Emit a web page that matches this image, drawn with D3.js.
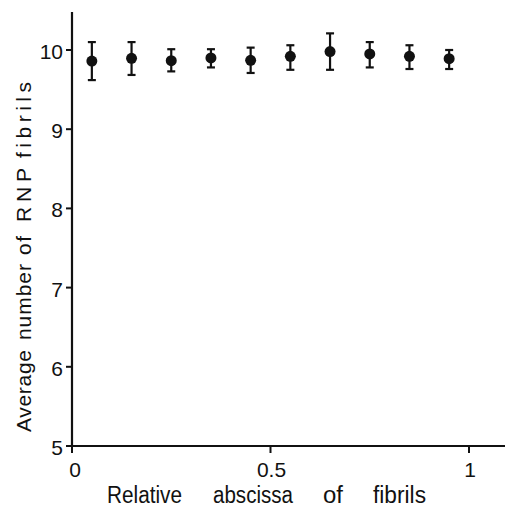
<!DOCTYPE html>
<html>
<head>
<meta charset="utf-8">
<script src="https://cdn.jsdelivr.net/npm/d3@7"></script>
<style>
  body { margin: 0; background: #fff; }
  text { font-family: "Liberation Sans", Arial, sans-serif; fill: #111; }
</style>
</head>
<body>
<div id="chart"></div>
<script>
// data
const abscissa = [0.05, 0.15, 0.25, 0.35, 0.45, 0.55, 0.65, 0.75, 0.85, 0.95];
const means    = [9.86, 9.895, 9.865, 9.90, 9.87, 9.92, 9.98, 9.95, 9.92, 9.89];
const upper    = [10.10, 10.10, 10.01, 10.01, 10.03, 10.06, 10.21, 10.10, 10.06, 10.00];
const lower    = [9.62, 9.685, 9.73, 9.78, 9.71, 9.75, 9.75, 9.78, 9.76, 9.76];
const xTicks = [0, 0.5, 1];
const xTickLabels = ["0", "0.5", "1"];
const yTicks = [5, 6, 7, 8, 9, 10];
const xTitleWords = ["Relative", "abscissa", "of", "fibrils"];
const yTitleWords = ["Average", "number", "of", "R N P", "fibrils"];

const W = 507, H = 508;
const chart = {
  x: d3.scaleLinear().domain([0, 1]).range([72, 469]),
  y: d3.scaleLinear().domain([5, 10]).range([446, 50])
};

const svg = d3.select("#chart").append("svg")
  .attr("width", W).attr("height", H);

// axes lines
svg.append("line")
  .attr("x1", chart.x(0)).attr("x2", chart.x(0))
  .attr("y1", 12).attr("y2", chart.y(5))
  .attr("stroke", "#111").attr("stroke-width", 2.2);
svg.append("line")
  .attr("x1", chart.x(0) - 6).attr("x2", 505)
  .attr("y1", chart.y(5)).attr("y2", chart.y(5))
  .attr("stroke", "#111").attr("stroke-width", 2.2);

// y ticks
let yAxis = svg.append("g").attr("id", "y-axis");
yAxis.selectAll(".ytick").data(yTicks).enter()
  .append("line")
  .attr("x1", chart.x(0) - 6).attr("x2", chart.x(0))
  .attr("y1", d => chart.y(d)).attr("y2", d => chart.y(d))
  .attr("stroke", "#111").attr("stroke-width", 2);
yAxis.selectAll(".ylabel").data(yTicks).enter()
  .append("text")
  .attr("x", 63)
  .attr("y", d => chart.y(d) + 9)
  .attr("text-anchor", "end")
  .style("font-size", "21px")
  .text(d => d);

// x ticks
let xAxis = svg.append("g").attr("id", "x-axis");
xAxis.selectAll(".xtick").data(xTicks).enter()
  .append("line")
  .attr("x1", d => chart.x(d)).attr("x2", d => chart.x(d))
  .attr("y1", chart.y(5)).attr("y2", chart.y(5) + 7)
  .attr("stroke", "#111").attr("stroke-width", 2);
xAxis.selectAll(".xlabel").data(xTicks).enter()
  .append("text")
  .attr("x", (d, i) => chart.x(d) + (i == 0 ? 3 : 1))
  .attr("y", 477)
  .attr("text-anchor", "middle")
  .style("font-size", "21px")
  .text((d, i) => xTickLabels[i]);

// axis titles, word by word (the original sets them with wide gaps)
const xTitleSpans = [[107, 182], [213, 293], [323, 343], [373, 426]];
svg.append("g").attr("id", "x-title")
  .selectAll("text").data(xTitleWords).enter()
  .append("text")
  .attr("x", (d, i) => xTitleSpans[i][0])
  .attr("y", 503)
  .attr("textLength", (d, i) => xTitleSpans[i][1] - xTitleSpans[i][0])
  .attr("lengthAdjust", "spacingAndGlyphs")
  .style("font-size", "23px")
  .text(d => d);

// distances along the axis measured up from y = 432
const yTitleSpans = [[0, 82], [92, 168], [177, 196], [210, 264], [274, 350]];
svg.append("g").attr("id", "y-title")
  .attr("transform", "translate(31,432) rotate(-90)")
  .selectAll("text").data(yTitleWords).enter()
  .append("text")
  .attr("x", (d, i) => yTitleSpans[i][0])
  .attr("y", 0)
  .attr("textLength", (d, i) => yTitleSpans[i][1] - yTitleSpans[i][0])
  .attr("lengthAdjust", "spacing")
  .style("font-size", "21px")
  .text(d => d);

// points with error bars
let pts = svg.append("g").attr("id", "points")
  .selectAll(".pt").data(abscissa).enter()
  .append("g")
  .attr("class", "pt");

pts.append("line")
  .attr("x1", d => chart.x(d)).attr("x2", d => chart.x(d))
  .attr("y1", (d, i) => chart.y(upper[i])).attr("y2", (d, i) => chart.y(lower[i]))
  .attr("stroke", "#111").attr("stroke-width", 2.2);
pts.append("line")
  .attr("x1", d => chart.x(d) - 4).attr("x2", d => chart.x(d) + 4)
  .attr("y1", (d, i) => chart.y(upper[i])).attr("y2", (d, i) => chart.y(upper[i]))
  .attr("stroke", "#111").attr("stroke-width", 2.2);
pts.append("line")
  .attr("x1", d => chart.x(d) - 4).attr("x2", d => chart.x(d) + 4)
  .attr("y1", (d, i) => chart.y(lower[i])).attr("y2", (d, i) => chart.y(lower[i]))
  .attr("stroke", "#111").attr("stroke-width", 2.2);
pts.append("circle")
  .attr("cx", d => chart.x(d))
  .attr("cy", (d, i) => chart.y(means[i]))
  .attr("r", 5.5)
  .attr("fill", "#111");
</script>
</body>
</html>
